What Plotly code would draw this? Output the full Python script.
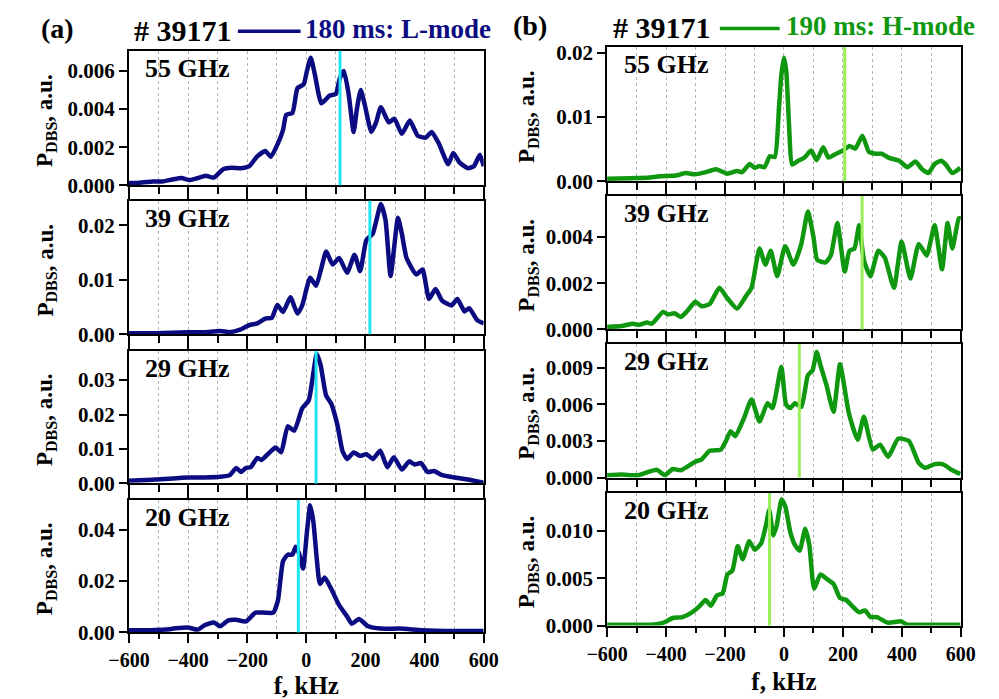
import plotly.graph_objects as go

# ---------------- data ----------------
# (a) 180 ms, L-mode
f_L55 = [-600,-574,-541,-520,-487,-454,-422,-395,-367,-340,-313,-280,-253,-220,-193,-167,-139,-120,-96,-79,-68,-47,-30,-9,2,15,29,51,78,100,113,127,143,160,171,184,198,220,236,252,279,298,323,350,377,404,424,448,480,497,518,546,567,587,600]
p_L55 = [0.00012,0.00012,0.00017,0.0002,0.0002,0.0003,0.00038,0.00027,0.00038,0.0005,0.0004,0.00085,0.00092,0.00089,0.001,0.0015,0.0018,0.0015,0.0022,0.0029,0.0037,0.0038,0.0051,0.0053,0.006,0.0067,0.0058,0.0043,0.0047,0.0048,0.0056,0.006,0.0048,0.0028,0.004,0.005,0.0042,0.0028,0.0033,0.0041,0.0033,0.0035,0.0027,0.0034,0.0026,0.0025,0.0028,0.0022,0.0011,0.0017,0.0012,0.0009,0.001,0.0016,0.001]

f_L39 = [-600,-509,-400,-346,-291,-259,-226,-193,-166,-139,-117,-98,-79,-54,-30,-14,13,33,51,67,89,111,138,163,182,203,225,252,268,285,310,323,339,372,393,415,437,459,491,511,535,551,578,600]
p_L39 = [0.0002,0.0002,0.0004,0.0004,0.0006,0.0004,0.0008,0.0017,0.002,0.0029,0.003,0.0054,0.0041,0.0068,0.0038,0.0053,0.0104,0.0089,0.0122,0.0152,0.0128,0.014,0.0113,0.0146,0.0116,0.0173,0.0185,0.0239,0.0209,0.0107,0.0214,0.0185,0.014,0.011,0.0119,0.0065,0.0083,0.0062,0.0053,0.0065,0.0042,0.0048,0.0026,0.002]

f_L29 = [-600,-509,-400,-346,-291,-259,-237,-221,-204,-188,-166,-152,-128,-104,-85,-63,-41,-14,8,24,35,48,67,84,105,122,138,160,182,203,225,250,274,296,323,348,366,388,410,432,459,502,546,600]
p_L29 = [0.0008,0.0011,0.0017,0.0017,0.0019,0.0024,0.0045,0.0033,0.0045,0.0047,0.0074,0.0068,0.0087,0.0104,0.009,0.0166,0.0153,0.0218,0.0241,0.0322,0.0377,0.0345,0.0255,0.0232,0.017,0.0095,0.0071,0.009,0.008,0.0085,0.0071,0.0095,0.0047,0.0076,0.004,0.0064,0.0055,0.0059,0.0033,0.0036,0.0024,0.0017,0.0011,0.0002]

f_L20 = [-600,-530,-476,-443,-400,-367,-346,-313,-291,-264,-237,-204,-172,-139,-112,-96,-79,-63,-47,-36,-25,-11,2,13,24,35,46,62,84,111,138,154,178,209,252,317,393,502,600]
p_L20 = [0.0009,0.0009,0.0011,0.0016,0.0019,0.0011,0.0027,0.0039,0.0024,0.0047,0.0049,0.0043,0.0077,0.0077,0.0077,0.0125,0.0277,0.0303,0.0303,0.0334,0.0309,0.0249,0.0391,0.0495,0.0429,0.029,0.0189,0.0214,0.017,0.0106,0.0062,0.0034,0.0052,0.0024,0.0015,0.0015,0.0009,0.0006,0.0006]

# (b) 190 ms, H-mode
f_H55 = [-600,-519,-464,-421,-366,-334,-301,-268,-230,-192,-159,-143,-116,-99,-83,-66,-48,-31,-17,-9,0,8,17,28,48,70,92,111,133,151,177,201,222,242,266,288,310,331,359,391,419,446,468,490,511,533,549,571,598]
p_H55 = [0.0004,0.0005,0.00055,0.0008,0.0009,0.0013,0.0011,0.0014,0.0019,0.0012,0.0016,0.0014,0.0027,0.0021,0.0024,0.0022,0.0039,0.0038,0.0114,0.0165,0.0192,0.017,0.0089,0.0026,0.0032,0.0037,0.0048,0.0033,0.0053,0.0037,0.0043,0.0048,0.0055,0.0051,0.0071,0.0046,0.0043,0.0043,0.0036,0.0032,0.0022,0.0031,0.0019,0.0013,0.0027,0.0032,0.0026,0.0013,0.0021]

f_H39 = [-600,-551,-513,-492,-464,-448,-410,-393,-372,-350,-328,-301,-279,-252,-219,-192,-159,-126,-110,-83,-63,-45,-23,4,32,59,81,100,113,141,159,181,206,222,239,255,271,293,320,342,373,399,429,457,484,511,536,555,571,593,600]
p_H39 = [0.00011,0.00015,0.00025,0.0002,0.0003,0.00025,0.00076,0.00065,0.0007,0.00054,0.0008,0.0012,0.001,0.0011,0.0018,0.00135,0.0009,0.0015,0.0018,0.0035,0.0028,0.0034,0.0023,0.0036,0.0028,0.0037,0.0051,0.004,0.003,0.0029,0.0032,0.0046,0.0025,0.0034,0.0035,0.0045,0.003,0.0023,0.0034,0.0031,0.0018,0.0038,0.0022,0.0037,0.0032,0.0045,0.0026,0.0046,0.0035,0.0048,0.0048]

f_H29 = [-600,-551,-497,-470,-432,-404,-377,-350,-301,-279,-252,-214,-197,-181,-165,-137,-110,-83,-56,-39,-9,7,21,37,59,81,97,111,124,144,168,190,220,250,271,301,326,353,388,424,457,478,511,538,571,598]
p_H29 = [0.00019,0.00024,0.00019,0.00038,0.00064,0.0002,0.0007,0.0006,0.0013,0.0015,0.0022,0.0023,0.003,0.0038,0.0034,0.0048,0.0064,0.0046,0.0061,0.0057,0.0091,0.006,0.0057,0.0061,0.0058,0.0084,0.0088,0.0103,0.0092,0.0076,0.0054,0.0093,0.0053,0.0031,0.005,0.0023,0.0027,0.0017,0.0032,0.003,0.0012,0.0008,0.0011,0.0011,0.0006,0.0003]

f_H20 = [-600,-519,-453,-410,-377,-344,-312,-288,-266,-248,-227,-208,-192,-175,-157,-140,-118,-99,-77,-61,-50,-36,-25,-8,5,21,37,53,72,86,102,124,146,168,190,211,233,255,275,293,315,353,397,419,462,598]
p_H20 = [0.0001,0.0001,0.0001,0.0003,0.0008,0.0009,0.0014,0.002,0.0027,0.0021,0.0032,0.0034,0.0054,0.0058,0.0084,0.007,0.0089,0.008,0.0087,0.0106,0.0122,0.0095,0.0105,0.0133,0.0125,0.0099,0.0085,0.0079,0.0102,0.0085,0.0039,0.0054,0.0049,0.0044,0.0029,0.0027,0.002,0.0014,0.0016,0.0009,0.0009,0.0003,0.00045,0.0001,0.0001,0.0001]

panel_labels = ["55 GHz", "39 GHz", "29 GHz", "20 GHz"]
left_f = [f_L55, f_L39, f_L29, f_L20]
left_p = [p_L55, p_L39, p_L29, p_L20]
right_f = [f_H55, f_H39, f_H29, f_H20]
right_p = [p_H55, p_H39, p_H29, p_H20]

# vertical marker frequencies (kHz)
mark_left = [114, 215, 33, -27]
mark_right = [206, 265, 52, -49]

# y ranges / ticks
left_ymax = [0.00706, 0.0245, 0.0385, 0.0516]
left_yticks = [[0, 0.002, 0.004, 0.006], [0, 0.01, 0.02], [0, 0.01, 0.02, 0.03], [0, 0.02, 0.04]]
left_ylabels = [["0.000", "0.002", "0.004", "0.006"], ["0.00", "0.01", "0.02"],
                ["0.00", "0.01", "0.02", "0.03"], ["0.00", "0.02", "0.04"]]
right_ymax = [0.0209, 0.00577, 0.01096, 0.01396]
right_yticks = [[0, 0.01, 0.02], [0, 0.002, 0.004], [0, 0.003, 0.006, 0.009], [0, 0.005, 0.010]]
right_ylabels = [["0.00", "0.01", "0.02"], ["0.000", "0.002", "0.004"],
                 ["0.000", "0.003", "0.006", "0.009"], ["0.000", "0.005", "0.010"]]

x_ticks = [-600, -400, -200, 0, 200, 400, 600]
x_labels = ["\u2212600", "\u2212400", "\u2212200", "0", "200", "400", "600"]

# ---------------- styling / layout ----------------
W, H = 999, 699
SERIF = "Liberation Serif"
NAVY = "#0c0c82"
GREEN = "#0f980f"
CYAN = "#1fe6f2"
LGREEN = "#9aee5a"
GRID = "#b4b4b4"

left_x = (112, 480)
right_x = (608, 975)
left_y = [(46, 184), (200, 337), (354, 490), (507, 643)]
right_y = [(42, 180), (195, 332), (347, 484), (500, 636)]

fig = go.Figure()
layout = dict(
    width=W, height=H, margin=dict(l=0, r=0, t=0, b=0),
    paper_bgcolor="white", plot_bgcolor="white", showlegend=False,
    annotations=[], shapes=[],
)

def px_x(v):
    return v / W

def px_y(v):
    return 1 - v / H

def bold(lst):
    return [f"<b>{s}</b>" for s in lst]

idx = 0
for side, (xs, ys, fs, ps, marks, ymaxs, yts, yls, col, mcol) in enumerate([
    (left_x, left_y, left_f, left_p, mark_left, left_ymax, left_yticks, left_ylabels, NAVY, CYAN),
    (right_x, right_y, right_f, right_p, mark_right, right_ymax, right_yticks, right_ylabels, GREEN, LGREEN),
]):
    for k in range(4):
        idx += 1
        xa = "x" if idx == 1 else f"x{idx}"
        ya = "y" if idx == 1 else f"y{idx}"
        xkey = "xaxis" if idx == 1 else f"xaxis{idx}"
        ykey = "yaxis" if idx == 1 else f"yaxis{idx}"
        top, bot = ys[k]
        bottom_panel = (k == 3)
        major_len = 9 if bottom_panel else 13
        minor_len = 5 if bottom_panel else 7
        xdict = dict(
            domain=[px_x(xs[0]), px_x(xs[1])], anchor=ya, range=[-600, 600],
            tickvals=x_ticks, ticktext=bold(x_labels),
            ticks="outside", ticklen=major_len, tickwidth=2, tickcolor="black",
            showticklabels=bottom_panel,
            tickfont=dict(family=SERIF, size=20, color="black"),
            showline=True, linecolor="black", linewidth=2, mirror=True,
            showgrid=True, gridcolor=GRID, gridwidth=1, griddash="3px,3px",
            minor=dict(dtick=100, tick0=0, ticks="outside", ticklen=minor_len, tickwidth=2,
                       tickcolor="black", showgrid=True, gridcolor=GRID,
                       gridwidth=1, griddash="3px,3px"),
            zeroline=False, fixedrange=True,
        )
        if bottom_panel:
            xdict["title"] = dict(text="<b>f, kHz</b>", standoff=9,
                                  font=dict(family=SERIF, size=25, color="black"))
        layout[xkey] = xdict
        layout[ykey] = dict(
            domain=[px_y(bot), px_y(top)], anchor=xa, range=[0, ymaxs[k]],
            tickvals=yts[k], ticktext=bold(yls[k]),
            ticks="outside", ticklen=8, tickwidth=2, tickcolor="black",
            tickfont=dict(family=SERIF, size=21, color="black"),
            showline=True, linecolor="black", linewidth=2, mirror=True,
            showgrid=False, zeroline=False, fixedrange=True,
        )
        fig.add_trace(go.Scatter(
            x=fs[k], y=ps[k], xaxis=xa, yaxis=ya, mode="lines",
            line=dict(color=col, width=4.5, shape="spline", smoothing=0.5),
            hoverinfo="skip",
        ))
        layout["shapes"].append(dict(
            type="line", xref=xa, yref=f"{ya} domain", x0=marks[k], x1=marks[k],
            y0=0, y1=1, line=dict(color=mcol, width=3), layer="above",
        ))
        # panel label
        layout["annotations"].append(dict(
            x=px_x(xs[0] + 15), y=px_y(top + 18), xref="paper", yref="paper",
            xanchor="left", yanchor="middle", showarrow=False,
            text=f"<b>{panel_labels[k]}</b>",
            font=dict(family=SERIF, size=26, color="black"),
        ))
        # y title
        ytx = 26 if side == 0 else 526
        layout["annotations"].append(dict(
            x=px_x(ytx), y=px_y((top + bot) / 2 + 3), xref="paper", yref="paper",
            xanchor="center", yanchor="middle", showarrow=False, textangle=-90,
            text="<b>P<sub>DBS</sub>, a.u.</b>",
            font=dict(family=SERIF, size=23, color="black"),
        ))

# headers
hdr = [
    # (panel letter, letter x, number x, line x0, line x1, mode text x, y, color, text)
    ("(a)", 38, 115, 225, 290, 293, 24, NAVY, "180 ms: L-mode"),
    ("(b)", 528, 612, 725, 787, 792, 21, GREEN, "190 ms: H-mode"),
]
for letter, lx, nx, l0, l1, tx, yc, col, txt in hdr:
    layout["annotations"].append(dict(
        x=px_x(lx), y=px_y(yc - 1), xref="paper", yref="paper", xanchor="center",
        yanchor="middle", showarrow=False, text=f"<b>{letter}</b>",
        font=dict(family=SERIF, size=28, color="black")))
    layout["annotations"].append(dict(
        x=px_x(nx), y=px_y(yc + 1), xref="paper", yref="paper", xanchor="left",
        yanchor="middle", showarrow=False, text="<b># 39171</b>",
        font=dict(family=SERIF, size=30, color="black")))
    layout["shapes"].append(dict(
        type="line", xref="paper", yref="paper", x0=px_x(l0), x1=px_x(l1),
        y0=px_y(yc + 2), y1=px_y(yc + 2), line=dict(color=col, width=3.5)))
    layout["annotations"].append(dict(
        x=px_x(tx), y=px_y(yc), xref="paper", yref="paper", xanchor="left",
        yanchor="middle", showarrow=False, text=f"<b>{txt}</b>",
        font=dict(family=SERIF, size=27, color=col)))

fig.update_layout(**layout)
fig.write_html("out.html")
